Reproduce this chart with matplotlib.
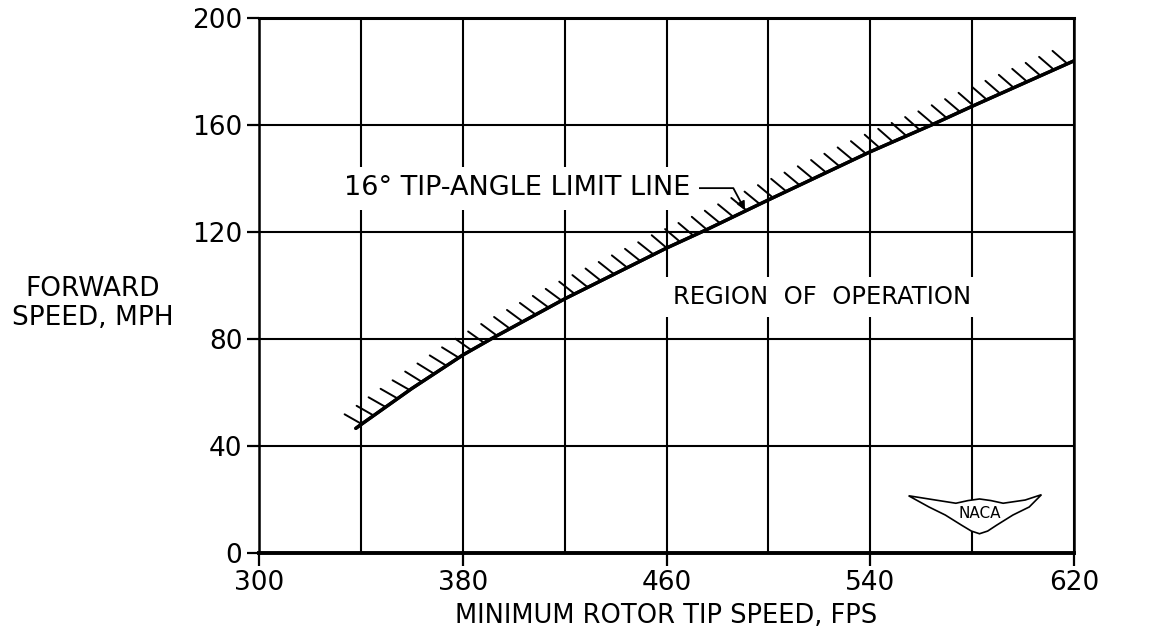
import matplotlib
matplotlib.use("Agg")
import matplotlib.pyplot as plt
import matplotlib.patheffects as pe

# 16 deg tip-angle limit line
tip_speed = [338, 340, 360, 380, 392, 420, 460, 476, 500, 540, 564, 580, 620]
fwd_speed = [46.6, 48, 61.5, 74, 80.5, 95, 114, 121, 132, 150, 160, 167, 184]

x_labels = [300, 380, 460, 540, 620]
x_grid = [300, 340, 380, 420, 460, 500, 540, 580, 620]
y_labels = [0, 40, 80, 120, 160, 200]

# wing outline of the logo, in axes fraction
wing_x = [0.797, 0.83, 0.855, 0.87, 0.884, 0.898, 0.913, 0.94, 0.96,
          0.945, 0.925, 0.905, 0.894, 0.884, 0.874, 0.862, 0.842, 0.822, 0.797]
wing_y = [0.107, 0.099, 0.093, 0.098, 0.101, 0.098, 0.093, 0.099, 0.109,
          0.086, 0.071, 0.052, 0.041, 0.036, 0.041, 0.052, 0.071, 0.086, 0.107]


def main():
    plt.rcParams['font.family'] = 'DejaVu Sans'
    fig = plt.figure(figsize=(11.58, 6.36), dpi=100)
    ax = fig.add_axes([0.2237, 0.1305, 0.7038, 0.8412])

    ax.set_xlim(300, 620)
    ax.set_ylim(0, 200)
    ax.set_xticks(x_labels)
    ax.set_xticks([v for v in x_grid if v not in x_labels], minor=True)
    ax.set_yticks(y_labels)
    ax.tick_params(which='major', direction='out', length=9, width=1.6,
                   labelsize=19, pad=3)
    ax.tick_params(which='minor', length=0)
    ax.grid(which='both', color='black', linewidth=1.5)
    ax.set_axisbelow(True)
    for side, lw in [('left', 1.8), ('bottom', 2.8), ('top', 2.2), ('right', 1.8)]:
        ax.spines[side].set_linewidth(lw)

    # limit line with hatching on the upper side
    ax.plot(tip_speed, fwd_speed, color='black', linewidth=2.4,
            solid_capstyle='round', zorder=4,
            path_effects=[pe.withTickedStroke(spacing=10.5, angle=115,
                                              length=1.35, linewidth=1.4),
                          pe.Normal()])

    box = dict(facecolor='white', edgecolor='none', pad=6)
    ax.annotate("16° TIP-ANGLE LIMIT LINE", xy=(490.8, 128.2),
                xytext=(401.3, 136.4), ha='center', va='center', fontsize=19.5,
                bbox=box, zorder=5,
                arrowprops=dict(arrowstyle='-|>', color='black', lw=1.3,
                                mutation_scale=12, shrinkA=0, shrinkB=0,
                                connectionstyle='angle,angleA=0,angleB=118,rad=0'))
    ax.text(521, 95.7, "REGION  OF  OPERATION", ha='center', va='center',
            fontsize=17.5, bbox=box, zorder=5)

    ax.set_xlabel("MINIMUM ROTOR TIP SPEED, FPS", fontsize=18.5, labelpad=5)
    fig.text(0.08, 0.523, "FORWARD\nSPEED, MPH", ha='center', va='center',
             fontsize=19, linespacing=1.15)

    # NACA logo
    ax.fill(wing_x, wing_y, transform=ax.transAxes, facecolor='white',
            edgecolor='black', linewidth=1.2, zorder=5)
    ax.text(0.884, 0.074, "NACA", transform=ax.transAxes, ha='center',
            va='center', fontsize=11, zorder=6)

    fig.savefig("out.png", dpi=100)


if __name__ == '__main__':
    main()
